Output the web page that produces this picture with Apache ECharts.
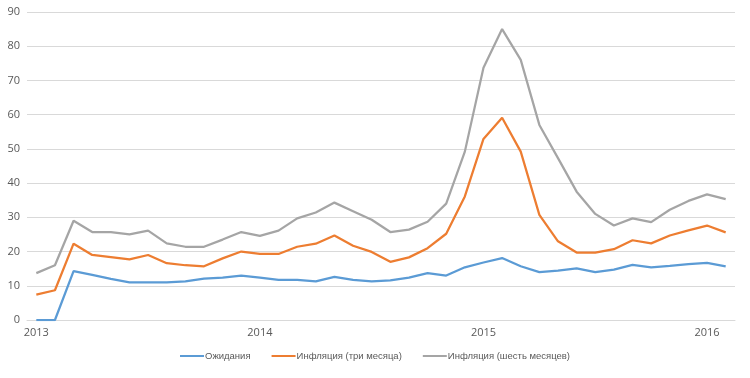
<!DOCTYPE html>
<html><head><meta charset="utf-8">
<script src="https://cdn.jsdelivr.net/npm/echarts@6/dist/echarts.min.js"></script>
<style>html,body{margin:0;padding:0;background:#fff}#c{width:750px;height:378px}</style>
</head><body><div id="c"></div>
<script>
const months = [];
for (let y = 2013; y <= 2016; y++) for (let m = 1; m <= 12; m++) { if (months.length < 38) months.push(y + '-' + String(m).padStart(2, '0')); }
const yearLabels = {"2013-01": "2013", "2014-01": "2014", "2015-01": "2015", "2016-01": "2016"};
const expectations = [0, 0, 14.3, 13.2, 12.0, 11.0, 11.0, 11.0, 11.3, 12.1, 12.4, 13.0, 12.4, 11.7, 11.7, 11.3, 12.6, 11.7, 11.3, 11.6, 12.4, 13.7, 13.0, 15.4, 16.8, 18.1, 15.7, 14.0, 14.4, 15.1, 14.0, 14.7, 16.1, 15.4, 15.8, 16.3, 16.7, 15.7];
const infl3 = [7.4, 8.7, 22.3, 19.0, 18.4, 17.7, 19.0, 16.6, 16.0, 15.7, 18.0, 20.0, 19.3, 19.3, 21.4, 22.3, 24.7, 21.7, 19.9, 17.0, 18.3, 21.0, 25.2, 36.1, 52.9, 59.1, 49.2, 30.7, 23.0, 19.7, 19.7, 20.7, 23.3, 22.4, 24.7, 26.2, 27.6, 25.6];
const infl6 = [13.7, 16.0, 29.0, 25.7, 25.7, 25.0, 26.1, 22.4, 21.4, 21.4, 23.5, 25.7, 24.6, 26.1, 29.7, 31.4, 34.3, 31.8, 29.3, 25.7, 26.4, 28.7, 34.0, 49.2, 73.7, 85.0, 76.0, 57.0, 47.3, 37.5, 31.0, 27.6, 29.7, 28.6, 32.2, 34.8, 36.7, 35.3];
const seriesNames = ["Ожидания", "Инфляция (три месяца)", "Инфляция (шесть месяцев)"];
const colors = ["#5B9BD5", "#ED7D31", "#A5A5A5"];
const chart = echarts.init(document.getElementById('c'));
const font = 'Open Sans, sans-serif';
chart.setOption({
  animation: false,
  color: colors,
  grid: {left: 27, right: 15, top: 12, bottom: 58, containLabel: false},
  legend: {
    bottom: 12, left: 'center', icon: 'rect', itemWidth: 24, itemHeight: 2, itemGap: 21,
    textStyle: {color: '#595959', fontSize: 9.5, fontFamily: 'Liberation Sans, Arial, sans-serif', padding: [0, 0, 0, -4]},
    data: seriesNames
  },
  xAxis: {
    type: 'category', data: months, boundaryGap: true,
    axisLine: {show: true, lineStyle: {color: '#d9d9d9'}},
    axisTick: {show: false},
    axisLabel: {color: '#595959', fontSize: 11, fontFamily: font, margin: 7,
      interval: function (i) { return i % 12 === 0; },
      formatter: function (v) { return yearLabels[v] || ''; }}
  },
  yAxis: {
    type: 'value', min: 0, max: 90, interval: 10,
    axisLine: {show: false}, axisTick: {show: false},
    axisLabel: {color: '#595959', fontSize: 11, fontFamily: font, margin: 7},
    splitLine: {lineStyle: {color: '#d9d9d9', width: 1}}
  },
  series: [
    {name: seriesNames[0], type: 'line', data: expectations, symbol: 'none', lineStyle: {width: 2.25}},
    {name: seriesNames[1], type: 'line', data: infl3, symbol: 'none', lineStyle: {width: 2.25}},
    {name: seriesNames[2], type: 'line', data: infl6, symbol: 'none', lineStyle: {width: 2.25}}
  ]
});
</script></body></html>
